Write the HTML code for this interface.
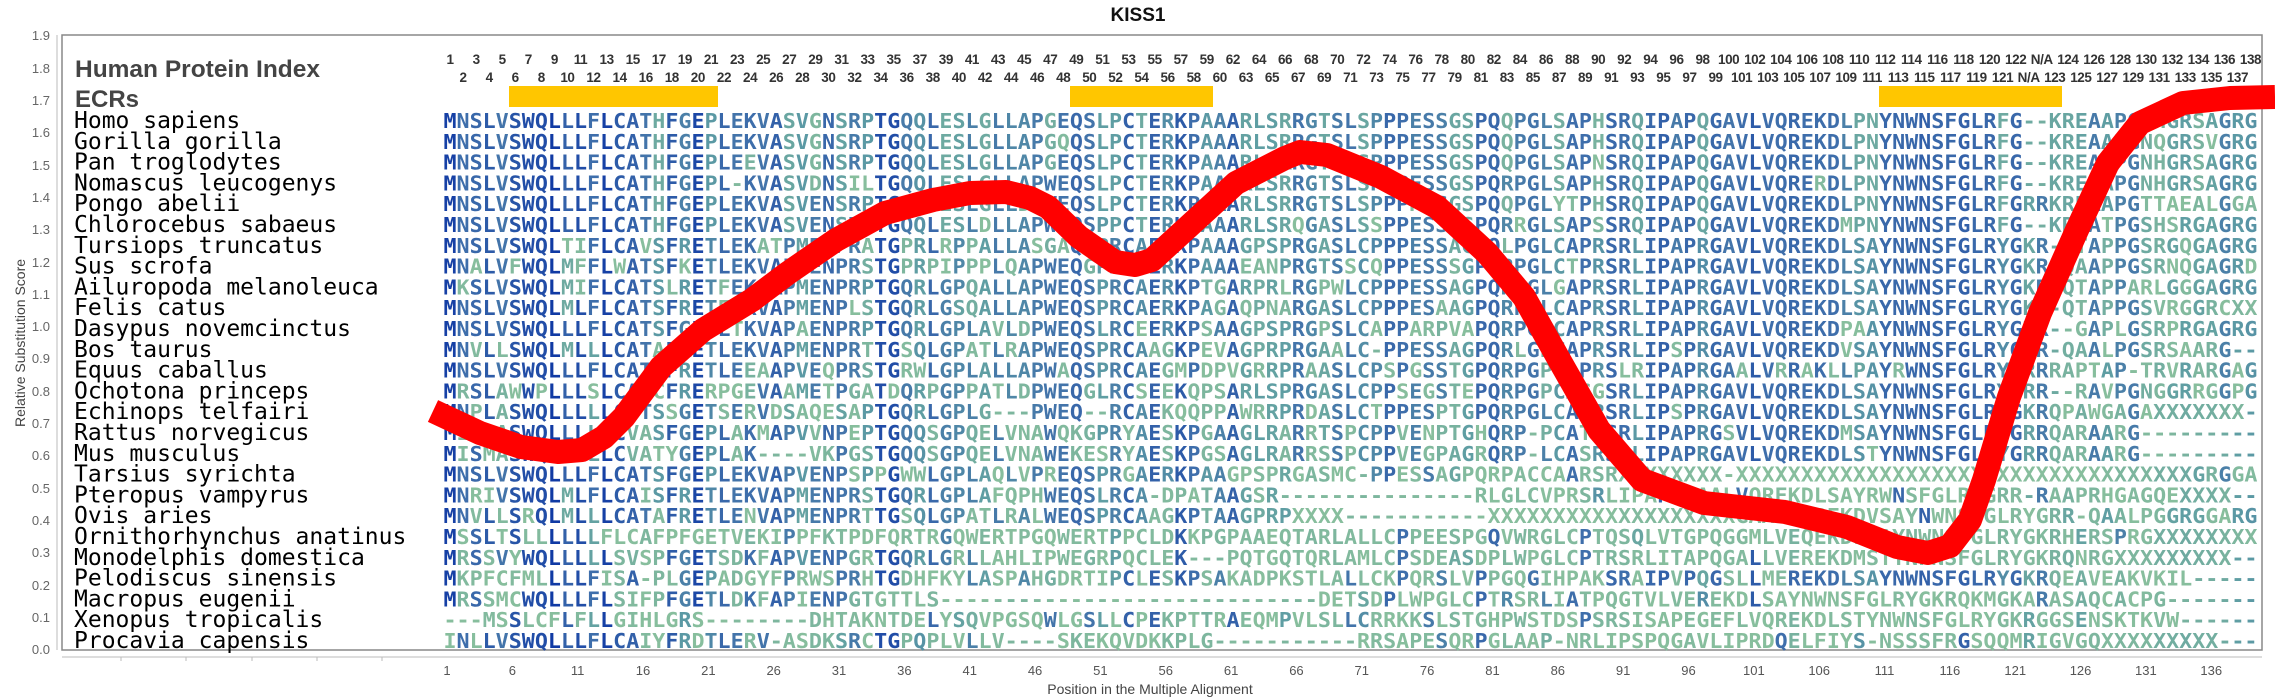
<!DOCTYPE html>
<html><head><meta charset="utf-8"><style>
html,body{margin:0;padding:0;background:#fff;}
body{width:2275px;height:700px;overflow:hidden;position:relative;font-family:"Liberation Sans",sans-serif;}
.row{position:absolute;display:flex;font-weight:bold;font-size:13.5px;color:#333;letter-spacing:-0.4px;white-space:nowrap;}
.row span{width:26.1px;text-align:center;flex:none;}
.xr{position:absolute;display:flex;font-size:13px;color:#555;top:663px;left:414.3px;}
.xr span{width:65.35px;text-align:center;flex:none;}
</style></head><body>
<svg width="2275" height="700" style="position:absolute;left:0;top:0" xmlns="http://www.w3.org/2000/svg">
<text x="1138" y="21" text-anchor="middle" font-family="Liberation Sans" font-weight="bold" font-size="19" fill="#111">KISS1</text>
<rect x="62" y="35" width="2200" height="615" fill="none" stroke="#888" stroke-width="1.5"/>
<line x1="57" y1="35" x2="57" y2="650" stroke="#bbb"/>
<line x1="62" y1="657" x2="2262" y2="657" stroke="#bbb"/>
<g font-family="Liberation Sans" font-size="13" fill="#666" text-anchor="end">
<text x="50" y="40">1.9</text><text x="50" y="73">1.8</text><text x="50" y="105">1.7</text><text x="50" y="137">1.6</text><text x="50" y="170">1.5</text><text x="50" y="202">1.4</text><text x="50" y="234">1.3</text><text x="50" y="267">1.2</text><text x="50" y="299">1.1</text><text x="50" y="331">1.0</text><text x="50" y="363">0.9</text><text x="50" y="396">0.8</text><text x="50" y="428">0.7</text><text x="50" y="460">0.6</text><text x="50" y="493">0.5</text><text x="50" y="525">0.4</text><text x="50" y="557">0.3</text><text x="50" y="590">0.2</text><text x="50" y="622">0.1</text><text x="50" y="654">0.0</text>
</g>
<text transform="translate(25,343) rotate(-90)" text-anchor="middle" font-family="Liberation Sans" font-size="14" fill="#444">Relative Substitution Score</text>
<text x="1150" y="694" text-anchor="middle" font-family="Liberation Sans" font-size="14" fill="#444">Position in the Multiple Alignment</text>
<g stroke="#bbb"><line x1="121" y1="657" x2="121" y2="661"/><line x1="186" y1="657" x2="186" y2="661"/><line x1="252" y1="657" x2="252" y2="661"/><line x1="317" y1="657" x2="317" y2="661"/><line x1="382" y1="657" x2="382" y2="661"/></g>
<g fill="#ffc600"><rect x="509" y="86" width="209" height="21"/><rect x="1070" y="86" width="143" height="21"/><rect x="1879" y="86" width="183" height="21"/></g>
<text x="75" y="77" font-family="Liberation Sans" font-weight="bold" font-size="24" fill="#444" textLength="245" lengthAdjust="spacingAndGlyphs">Human Protein Index</text>
<text x="75" y="107" font-family="Liberation Sans" font-weight="bold" font-size="24" fill="#444">ECRs</text>
<g font-family="DejaVu Sans Mono" font-size="23" fill="#000">
<text x="74" y="128">Homo sapiens</text><text x="74" y="148.8">Gorilla gorilla</text><text x="74" y="169.6">Pan troglodytes</text><text x="74" y="190.4">Nomascus leucogenys</text><text x="74" y="211.2">Pongo abelii</text><text x="74" y="232">Chlorocebus sabaeus</text><text x="74" y="252.8">Tursiops truncatus</text><text x="74" y="273.6">Sus scrofa</text><text x="74" y="294.4">Ailuropoda melanoleuca</text><text x="74" y="315.2">Felis catus</text><text x="74" y="336">Dasypus novemcinctus</text><text x="74" y="356.8">Bos taurus</text><text x="74" y="377.6">Equus caballus</text><text x="74" y="398.4">Ochotona princeps</text><text x="74" y="419.2">Echinops telfairi</text><text x="74" y="440">Rattus norvegicus</text><text x="74" y="460.8">Mus musculus</text><text x="74" y="481.6">Tarsius syrichta</text><text x="74" y="502.4">Pteropus vampyrus</text><text x="74" y="523.2">Ovis aries</text><text x="74" y="544">Ornithorhynchus anatinus</text><text x="74" y="564.8">Monodelphis domestica</text><text x="74" y="585.6">Pelodiscus sinensis</text><text x="74" y="606.4">Macropus eugenii</text><text x="74" y="627.2">Xenopus tropicalis</text><text x="74" y="648">Procavia capensis</text>
</g>
<g id="seqs" font-family="DejaVu Sans Mono" font-weight="bold" font-size="20" fill="#3a6aa8">
<text class="seq" x="443.5" y="128" textLength="1814" lengthAdjust="spacingAndGlyphs">MNSLVSWQLLLFLCATHFGEPLEKVASVGNSRPTGQQLESLGLLAPGEQSLPCTERKPAAARLSRRGTSLSPPPESSGSPQQPGLSAPHSRQIPAPQGAVLVQREKDLPNYNWNSFGLRFG--KREAAPGNHGRSAGRG</text>
<text class="seq" x="443.5" y="148.8" textLength="1814" lengthAdjust="spacingAndGlyphs">MNSLVSWQLLLFLCATHFGEPLEKVASVGNSRPTGQQLESLGLLAPGQQSLPCTERKPAAARLSRRGTSLSPPPESSGSPQQPGLSAPHSRQIPAPQGAVLVQREKDLPNYNWNSFGLRFG--KREAAPGNQGRSVGRG</text>
<text class="seq" x="443.5" y="169.6" textLength="1814" lengthAdjust="spacingAndGlyphs">MNSLVSWQLLLFLCATHFGEPLEEVASVGNSRPTGQQLESLGLLAPGEQSLPCTERKPAAARLSRRGTSLSPPPESSGSPQQPGLSAPNSRQIPAPQGAVLVQREKDLPNYNWNSFGLRFG--KREAAPGNHGRSAGRG</text>
<text class="seq" x="443.5" y="190.4" textLength="1814" lengthAdjust="spacingAndGlyphs">MNSLVSWQLLLFLCATHFGEPL-KVASVDNSILTGQQLESLGLLAPWEQSLPCTERKPAAARLSRRGTSLSPPPESSGSPQRPGLSAPHSRQIPAPQGAVLVQRERDLPNYNWNSFGLRFG--KREAAPGNHGRSAGRG</text>
<text class="seq" x="443.5" y="211.2" textLength="1814" lengthAdjust="spacingAndGlyphs">MNSLVSWQLLLFLCATHFGEPLEKVASVENSRPTGQQLESLGLLDPWEQSLPCTERKPAAARLSRRGTSLSPPPKSSGSPQQPGLYTPHSRQIPAPQGAVLVQREKDLPNYNWNSFGLRFGRRKREAAPGTTAEALGGA</text>
<text class="seq" x="443.5" y="232" textLength="1814" lengthAdjust="spacingAndGlyphs">MNSLVSWQLLLFLCATHFGEPLEKVASVENSRPTGQQLESLDLLAPWEQSPPCTERKLAAARLSRQGASLSSPPESSGSPQRRGLSAPSSRQIPAPQGAVLVQREKDMPNYNWNSFGLRFG--KREATPGSHSRGAGRG</text>
<text class="seq" x="443.5" y="252.8" textLength="1814" lengthAdjust="spacingAndGlyphs">MNSLVSWQLTIFLCAVSFRETLEKATPMENPRATGPRLRPPALLASGAQSPRCAERKPAAAGPSPRGASLCPPPESSAGPQLPGLCAPRSRLIPAPRGAVLVQREKDLSAYNWNSFGLRYGKR-HTAPPGSRGQGAGRG</text>
<text class="seq" x="443.5" y="273.6" textLength="1814" lengthAdjust="spacingAndGlyphs">MNALVFWQLMFFLWATSFKETLEKVAPMENPRSTGPRPIPPPLQAPWEQGPRCAERKPAAAEANPRGTSSCQPPESSSGPQRPGLCTPRSRLIPAPRGAVLVQREKDLSAYNWNSFGLRYGKR-QAAPPGSRNQGAGRD</text>
<text class="seq" x="443.5" y="294.4" textLength="1814" lengthAdjust="spacingAndGlyphs">MKSLVSWQLMIFLCATSLRETFEKLAPMENPRPTGQRLGPQALLAPWEQSPRCAERKPTGARPRLRGPWLCPPPESSAGPQRPGLGAPRSRLIPAPRGAVLVQREKDLSAYNWNSFGLRYGKRKQTAPPARLGGGAGRG</text>
<text class="seq" x="443.5" y="315.2" textLength="1814" lengthAdjust="spacingAndGlyphs">MNSLVSWQLMLFLCATSFRETFEKVAPMENPLSTGQRLGSQALLAPWEQSPRCAERKPAGAQPNARGASLCPPPESAAGPQRPGLCAPRSRLIPAPRGAVLVQREKDLSAYNWNSFGLRYGKR-QTAPPGSVRGGRCXX</text>
<text class="seq" x="443.5" y="336" textLength="1814" lengthAdjust="spacingAndGlyphs">MNSLVSWQLLLFLCATSFGETLTKVAPAENPRPTGQRLGPLAVLDPWEQSLRCEERKPSAAGPSPRGPSLCAPPARPVAPQRPGLCAPRSRLIPAPRGAVLVQREKDPAAYNWNSFGLRYGKR--GAPLGSRPRGAGRG</text>
<text class="seq" x="443.5" y="356.8" textLength="1814" lengthAdjust="spacingAndGlyphs">MNVLLSWQLMLLLCATAFRETLEKVAPMENPRTTGSQLGPATLRAPWEQSPRCAAGKPEVAGPRPRGAALC-PPESSAGPQRLGPCAPRSRLIPSPRGAVLVQREKDVSAYNWNSFGLRYGRR-QAALPGSRSAARG--</text>
<text class="seq" x="443.5" y="377.6" textLength="1814" lengthAdjust="spacingAndGlyphs">MNSLVSWQLLLFLCATSFRETLEEAAPVEQPRSTGRWLGPLALLAPWAQSPRCAEGMPDPVGRRPRAASLCPSPGSSTGPQRPGPCAPRSLRIPAPRGAALVRRAKLLPAYRWNSFGLRYGRRRAPTAP-TRVRARGAG</text>
<text class="seq" x="443.5" y="398.4" textLength="1814" lengthAdjust="spacingAndGlyphs">MRSLAWWPLLLSLCATCFRERPGEVAAMETPGATDQRPGPPATLDPWEQGLRCSEEKQPSARLSPRGASLCPPSEGSTEPQRPGPCASGSRLIPAPRGAVLVQREKDLSAYNWNSFGLRYGRR--RAVPGNGGRRGGPG</text>
<text class="seq" x="443.5" y="419.2" textLength="1814" lengthAdjust="spacingAndGlyphs">MNPLASWQLLLLLCVTSSGETSERVDSAQESAPTGQRLGPLG---PWEQ--RCAEKQQPPAWRRPRDASLCTPPESPTGPQRPGLCAPRSRLIPSPRGAVLVQREKDLSAYNWNSFGLRYGKRQPAWGAGAXXXXXXX</text>
<text class="seq" x="443.5" y="440" textLength="1814" lengthAdjust="spacingAndGlyphs">MISLASWQLLLLLCVASFGEPLAKMAPVVNPEPTGQQSGPQELVNAWQKGPRYAESKPGAAGLRARRTSPCPPVENPTGHQRP-PCATRSRLIPAPRGSVLVQREKDMSAYNWNSFGLRYGRRQARAARG--------</text>
<text class="seq" x="443.5" y="460.8" textLength="1814" lengthAdjust="spacingAndGlyphs">MISMASWQLLLLLCVATYGEPLAK----VKPGSTGQQSGPQELVNAWEKESRYAESKPGSAGLRARRSSPCPPVEGPAGRQRP-LCASRSRLIPAPRGAVLVQREKDLSTYNWNSFGLRYGRRQARAARG--------</text>
<text class="seq" x="443.5" y="481.6" textLength="1814" lengthAdjust="spacingAndGlyphs">MNSLVSWQLLLFLCATSFGEPLEKVAPVENPSPPGWWLGPLAQLVPREQSPRGAERKPAAGPSPRGASMC-PPESSAGPQRPACCAARSRXXXXXXXX-XXXXXXXXXXXXXXXXXXXXXXXXXXXXXXXXXXXGRGGA</text>
<text class="seq" x="443.5" y="502.4" textLength="1814" lengthAdjust="spacingAndGlyphs">MNRIVSWQLMLFLCAISFRETLEKVAPMENPRSTGQRLGPLAFQPHWEQSLRCA-DPATAAGSR---------------RLGLCVPRSRLIPAPRGAALVQREKDLSAYRWNSFGLRYGRR-RAAPRHGAGQEXXXX</text>
<text class="seq" x="443.5" y="523.2" textLength="1814" lengthAdjust="spacingAndGlyphs">MNVLLSRQLMLLLCATAFRETLENVAPMENPRTTGSQLGPATLRALWEQSPRCAAGKPTAAGPRPXXXX-----------XXXXXXXXXXXXXXXXXXXGAALVQREKDVSAYNWNSFGLRYGRR-QAALPGGRGGARG--</text>
<text class="seq" x="443.5" y="544" textLength="1814" lengthAdjust="spacingAndGlyphs">MSSLTSLLLLLLFLCAFPFGETVEKIPPFKTPDFQRTRGQWERTPGQWERTPPCLDKKPGPAAEQTARLALLCPPEESPGQVWRGLCPTQSQLVTGPQGGMLVEQEKDLSAYNWNSFGLRYGKRHERSPRGXXXXXXXX</text>
<text class="seq" x="443.5" y="564.8" textLength="1814" lengthAdjust="spacingAndGlyphs">MRSSVYWQLLLLLSVSPFGETSDKFAPVENPGRTGQRLGRLLAHLIPWEGRPQCLEK---PQTGQTQRLAMLCPSDEASDPLWPGLCPTRSRLITAPQGALLVEREKDMSTYNWNSFGLRYGKRQNRGXXXXXXXXX</text>
<text class="seq" x="443.5" y="585.6" textLength="1814" lengthAdjust="spacingAndGlyphs">MKPFCFMLLLLFISA-PLGEPADGYFPRWSPRHTGDHFKYLASPAHGDRTIPCLESKPSAKADPKSTLALLCKPQRSLVPPGQGIHPAKSRAIPVPQGSLLMEREKDLSAYNWNSFGLRYGKRQEAVEAKVKIL-----</text>
<text class="seq" x="443.5" y="606.4" textLength="1814" lengthAdjust="spacingAndGlyphs">MRSSMCWQLLLFLSIFPFGETLDKFAPIENPGTGTTLS-----------------------------DETSDPLWPGLCPTRSRLIATPQGTVLVEREKDLSAYNWNSFGLRYGKRQKMGKARASAQCACPG</text>
<text class="seq" x="443.5" y="627.2" textLength="1814" lengthAdjust="spacingAndGlyphs">---MSSLCFLFLLGIHLGRS--------DHTAKNTDELYSQVPGSQWLGSLLCPEKPTTRAEQMPVLSLLCRRKKSLSTGHPWSTDSPSRSISAPEGEFLVQREKDLSTYNWNSFGLRYGKRGGSENSKTKVW-----</text>
<text class="seq" x="443.5" y="648" textLength="1814" lengthAdjust="spacingAndGlyphs">INLLVSWQLLLFLCAIYFRDTLERV-ASDKSRCTGPQPLVLLV----SKEKQVDKKPLG-----------RRSAPESQRPGLAAP-NRLIPSPQGAVLIPRDQELFIYS-NSSSFRGSQQMRIGVGQXXXXXXXXX</text>
</g>
<polyline fill="none" stroke="#ff0000" stroke-width="24" stroke-linejoin="round" points="433,411 480,433 521,447 558,452 582,450 604,437 624,417 661,367 703,330 752,300 788,273 836,240 885,213 933,200 970,193 1006,192 1030,198 1048,207 1079,237 1115,262 1135,265 1152,260 1188,227 1236,183 1285,158 1300,152 1327,155 1381,177 1437,207 1487,253 1524,297 1561,363 1599,430 1642,480 1704,503 1785,512 1847,527 1897,547 1928,553 1950,546 1970,520 1984,480 2009,397 2040,313 2077,230 2108,163 2140,123 2183,103 2230,98 2275,97"/>
</svg>
<div class="row" style="top:52px;left:437px">
<span>1</span><span>3</span><span>5</span><span>7</span><span>9</span><span>11</span><span>13</span><span>15</span><span>17</span><span>19</span><span>21</span><span>23</span><span>25</span><span>27</span><span>29</span><span>31</span><span>33</span><span>35</span><span>37</span><span>39</span><span>41</span><span>43</span><span>45</span><span>47</span><span>49</span><span>51</span><span>53</span><span>55</span><span>57</span><span>59</span><span>62</span><span>64</span><span>66</span><span>68</span><span>70</span><span>72</span><span>74</span><span>76</span><span>78</span><span>80</span><span>82</span><span>84</span><span>86</span><span>88</span><span>90</span><span>92</span><span>94</span><span>96</span><span>98</span><span>100</span><span>102</span><span>104</span><span>106</span><span>108</span><span>110</span><span>112</span><span>114</span><span>116</span><span>118</span><span>120</span><span>122</span><span>N/A</span><span>124</span><span>126</span><span>128</span><span>130</span><span>132</span><span>134</span><span>136</span><span>138</span>
</div>
<div class="row" style="top:70px;left:450px">
<span>2</span><span>4</span><span>6</span><span>8</span><span>10</span><span>12</span><span>14</span><span>16</span><span>18</span><span>20</span><span>22</span><span>24</span><span>26</span><span>28</span><span>30</span><span>32</span><span>34</span><span>36</span><span>38</span><span>40</span><span>42</span><span>44</span><span>46</span><span>48</span><span>50</span><span>52</span><span>54</span><span>56</span><span>58</span><span>60</span><span>63</span><span>65</span><span>67</span><span>69</span><span>71</span><span>73</span><span>75</span><span>77</span><span>79</span><span>81</span><span>83</span><span>85</span><span>87</span><span>89</span><span>91</span><span>93</span><span>95</span><span>97</span><span>99</span><span>101</span><span>103</span><span>105</span><span>107</span><span>109</span><span>111</span><span>113</span><span>115</span><span>117</span><span>119</span><span>121</span><span>N/A</span><span>123</span><span>125</span><span>127</span><span>129</span><span>131</span><span>133</span><span>135</span><span>137</span>
</div>
<div class="xr">
<span>1</span><span>6</span><span>11</span><span>16</span><span>21</span><span>26</span><span>31</span><span>36</span><span>41</span><span>46</span><span>51</span><span>56</span><span>61</span><span>66</span><span>71</span><span>76</span><span>81</span><span>86</span><span>91</span><span>96</span><span>101</span><span>106</span><span>111</span><span>116</span><span>121</span><span>126</span><span>131</span><span>136</span>
</div>
<script>
(function(){
var ts=[].slice.call(document.querySelectorAll('text.seq'));
var rows=ts.map(function(t){var s=t.textContent;while(s.length<139)s+='-';return s.slice(0,139);});
var N=rows.length;
function mix(a,b,t){return a.map(function(v,i){return Math.round(v+(b[i]-v)*t);});}
var stops=[[0,[140,194,156]],[0.35,[95,158,163]],[0.65,[63,111,171]],[1,[10,51,163]]];
function col(f){for(var i=1;i<stops.length;i++){if(f<=stops[i][0]){var a=stops[i-1],b=stops[i];var c=mix(a[1],b[1],(f-a[0])/(b[0]-a[0]));return 'rgb('+c.join(',')+')';}}return 'rgb(10,51,163)';}
var freq=[];
for(var c=0;c<139;c++){var m={};rows.forEach(function(r){m[r[c]]=(m[r[c]]||0)+1;});freq.push(m);}
var NS='http://www.w3.org/2000/svg';
ts.forEach(function(t,ri){var s=rows[ri];while(t.firstChild)t.removeChild(t.firstChild);
for(var c=0;c<139;c++){var sp=document.createElementNS(NS,'tspan');sp.textContent=s[c];var f=freq[c][s[c]]/N;sp.setAttribute('fill',col(f));t.appendChild(sp);}});
})();
</script>
</body></html>
